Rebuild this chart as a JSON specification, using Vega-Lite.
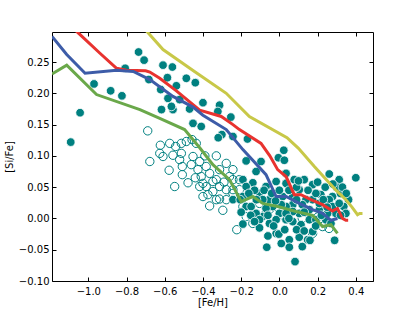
{
  "$schema": "https://vega.github.io/schema/vega-lite/v6.json",
  "width": 321,
  "height": 249,
  "autosize": "none",
  "padding": {"left": 52, "top": 32, "right": 42, "bottom": 31},
  "config": {
    "view": {"stroke": "black", "strokeWidth": 1},
    "font": "DejaVu Sans",
    "axis": {"grid": false, "domain": false, "tickColor": "black", "tickSize": -4, "labelColor": "black", "titleColor": "black", "labelFont": "DejaVu Sans", "titleFont": "DejaVu Sans", "labelFontSize": 10, "titleFontSize": 10, "titleFontWeight": "normal"}
  },
  "datasets": {
    "lines": [
      {"s": "yellow", "x": -0.72, "y": 0.308}, {"s": "yellow", "x": -0.609, "y": 0.270}, {"s": "yellow", "x": -0.45, "y": 0.236}, {"s": "yellow", "x": -0.278, "y": 0.200}, {"s": "yellow", "x": -0.157, "y": 0.163}, {"s": "yellow", "x": 0.04, "y": 0.129}, {"s": "yellow", "x": 0.10, "y": 0.112}, {"s": "yellow", "x": 0.183, "y": 0.083}, {"s": "yellow", "x": 0.252, "y": 0.060}, {"s": "yellow", "x": 0.30, "y": 0.044}, {"s": "yellow", "x": 0.348, "y": 0.030}, {"s": "yellow", "x": 0.38, "y": 0.018}, {"s": "yellow", "x": 0.409, "y": 0.006}, {"s": "yellow", "x": 0.42, "y": 0.008}, {"s": "yellow", "x": 0.435, "y": 0.008},
      {"s": "red", "x": -1.09, "y": 0.31}, {"s": "red", "x": -1.061, "y": 0.299}, {"s": "red", "x": -0.939, "y": 0.264}, {"s": "red", "x": -0.852, "y": 0.240}, {"s": "red", "x": -0.80, "y": 0.237}, {"s": "red", "x": -0.70, "y": 0.236}, {"s": "red", "x": -0.678, "y": 0.234}, {"s": "red", "x": -0.626, "y": 0.224}, {"s": "red", "x": -0.539, "y": 0.204}, {"s": "red", "x": -0.417, "y": 0.173}, {"s": "red", "x": -0.304, "y": 0.163}, {"s": "red", "x": -0.243, "y": 0.150}, {"s": "red", "x": -0.209, "y": 0.142}, {"s": "red", "x": -0.096, "y": 0.120}, {"s": "red", "x": -0.05, "y": 0.100}, {"s": "red", "x": -0.009, "y": 0.078}, {"s": "red", "x": 0.035, "y": 0.067}, {"s": "red", "x": 0.078, "y": 0.038}, {"s": "red", "x": 0.113, "y": 0.038}, {"s": "red", "x": 0.165, "y": 0.030}, {"s": "red", "x": 0.226, "y": 0.022}, {"s": "red", "x": 0.278, "y": 0.012}, {"s": "red", "x": 0.304, "y": 0.016}, {"s": "red", "x": 0.330, "y": 0.0}, {"s": "red", "x": 0.348, "y": -0.003}, {"s": "red", "x": 0.36, "y": -0.003},
      {"s": "blue", "x": -1.19, "y": 0.291}, {"s": "blue", "x": -1.113, "y": 0.262}, {"s": "blue", "x": -1.017, "y": 0.232}, {"s": "blue", "x": -0.852, "y": 0.237}, {"s": "blue", "x": -0.765, "y": 0.235}, {"s": "blue", "x": -0.678, "y": 0.222}, {"s": "blue", "x": -0.557, "y": 0.195}, {"s": "blue", "x": -0.452, "y": 0.178}, {"s": "blue", "x": -0.40, "y": 0.165}, {"s": "blue", "x": -0.278, "y": 0.142}, {"s": "blue", "x": -0.191, "y": 0.110}, {"s": "blue", "x": -0.070, "y": 0.070}, {"s": "blue", "x": -0.017, "y": 0.035}, {"s": "blue", "x": 0.035, "y": 0.035}, {"s": "blue", "x": 0.104, "y": 0.024}, {"s": "blue", "x": 0.174, "y": 0.014}, {"s": "blue", "x": 0.226, "y": 0.008}, {"s": "blue", "x": 0.270, "y": -0.003}, {"s": "blue", "x": 0.304, "y": 0.0},
      {"s": "green", "x": -1.19, "y": 0.231}, {"s": "green", "x": -1.113, "y": 0.245}, {"s": "green", "x": -0.957, "y": 0.198}, {"s": "green", "x": -0.73, "y": 0.174}, {"s": "green", "x": -0.626, "y": 0.160}, {"s": "green", "x": -0.496, "y": 0.142}, {"s": "green", "x": -0.417, "y": 0.113}, {"s": "green", "x": -0.348, "y": 0.086}, {"s": "green", "x": -0.261, "y": 0.062}, {"s": "green", "x": -0.2, "y": 0.027}, {"s": "green", "x": -0.139, "y": 0.035}, {"s": "green", "x": -0.087, "y": 0.024}, {"s": "green", "x": -0.009, "y": 0.019}, {"s": "green", "x": 0.087, "y": 0.011}, {"s": "green", "x": 0.174, "y": 0.005}, {"s": "green", "x": 0.226, "y": -0.013}, {"s": "green", "x": 0.270, "y": -0.010}, {"s": "green", "x": 0.304, "y": -0.024}
    ],
    "open": [
      {"x": -0.689, "y": 0.140}, {"x": -0.678, "y": 0.091}, {"x": -0.623, "y": 0.117}, {"x": -0.609, "y": 0.099}, {"x": -0.626, "y": 0.104}, {"x": -0.577, "y": 0.077}, {"x": -0.548, "y": 0.051}, {"x": -0.574, "y": 0.120}, {"x": -0.543, "y": 0.115}, {"x": -0.513, "y": 0.104}, {"x": -0.522, "y": 0.094}, {"x": -0.508, "y": 0.083}, {"x": -0.508, "y": 0.070}, {"x": -0.478, "y": 0.057}, {"x": -0.487, "y": 0.123}, {"x": -0.457, "y": 0.126}, {"x": -0.452, "y": 0.099}, {"x": -0.417, "y": 0.091}, {"x": -0.426, "y": 0.078}, {"x": -0.409, "y": 0.067}, {"x": -0.383, "y": 0.083}, {"x": -0.400, "y": 0.056}, {"x": -0.365, "y": 0.072}, {"x": -0.348, "y": 0.059}, {"x": -0.374, "y": 0.038}, {"x": -0.365, "y": 0.020}, {"x": -0.313, "y": 0.031}, {"x": -0.296, "y": 0.013}, {"x": -0.278, "y": 0.030}, {"x": -0.243, "y": 0.046}, {"x": -0.223, "y": -0.018}, {"x": -0.330, "y": 0.062}, {"x": -0.313, "y": 0.078}, {"x": -0.278, "y": 0.088}, {"x": -0.243, "y": 0.078}, {"x": -0.261, "y": 0.067}, {"x": -0.313, "y": 0.051}, {"x": -0.209, "y": 0.062}, {"x": -0.243, "y": 0.062}, {"x": -0.348, "y": 0.043}, {"x": -0.383, "y": 0.051}, {"x": -0.417, "y": 0.051}, {"x": -0.278, "y": 0.046}, {"x": -0.209, "y": 0.046}, {"x": -0.191, "y": 0.019}, {"x": -0.435, "y": 0.120}, {"x": -0.557, "y": 0.101}, {"x": -0.243, "y": 0.040}, {"x": -0.174, "y": 0.003}, {"x": -0.139, "y": -0.008}, {"x": -0.070, "y": 0.008}, {"x": -0.035, "y": 0.008}, {"x": 0.174, "y": -0.024}, {"x": 0.226, "y": -0.013}, {"x": 0.26, "y": -0.016}, {"x": -0.104, "y": 0.024}, {"x": -0.330, "y": 0.030}, {"x": -0.400, "y": 0.035}, {"x": -0.461, "y": 0.086}, {"x": -0.513, "y": 0.120}, {"x": -0.44, "y": 0.065}, {"x": -0.39, "y": 0.100}, {"x": -0.33, "y": 0.100}, {"x": -0.29, "y": 0.058}, {"x": -0.16, "y": 0.030}, {"x": -0.05, "y": 0.015}, {"x": 0.02, "y": 0.005}, {"x": 0.12, "y": 0.0}, {"x": 0.20, "y": 0.002}, {"x": 0.29, "y": 0.010}
    ],
    "filled": [
      {"x": -1.092, "y": 0.122}, {"x": -1.043, "y": 0.169}, {"x": -0.970, "y": 0.215}, {"x": -0.883, "y": 0.204}, {"x": -0.824, "y": 0.196}, {"x": -0.807, "y": 0.240}, {"x": -0.737, "y": 0.266}, {"x": -0.708, "y": 0.253}, {"x": -0.683, "y": 0.222}, {"x": -0.609, "y": 0.245}, {"x": -0.586, "y": 0.225}, {"x": -0.560, "y": 0.242}, {"x": -0.621, "y": 0.206}, {"x": -0.617, "y": 0.174}, {"x": -0.583, "y": 0.192}, {"x": -0.539, "y": 0.212}, {"x": -0.557, "y": 0.174}, {"x": -0.565, "y": 0.179}, {"x": -0.487, "y": 0.224}, {"x": -0.440, "y": 0.217}, {"x": -0.522, "y": 0.190}, {"x": -0.452, "y": 0.152}, {"x": -0.409, "y": 0.147}, {"x": -0.400, "y": 0.185}, {"x": -0.313, "y": 0.181}, {"x": -0.322, "y": 0.171}, {"x": -0.301, "y": 0.134}, {"x": -0.320, "y": 0.129}, {"x": -0.254, "y": 0.162}, {"x": -0.167, "y": 0.127}, {"x": -0.470, "y": 0.175}, {"x": -0.243, "y": 0.131}, {"x": -0.174, "y": 0.092}, {"x": -0.096, "y": 0.091}, {"x": -0.005, "y": 0.097}, {"x": 0.023, "y": 0.109}, {"x": 0.026, "y": 0.093}, {"x": -0.122, "y": 0.075}, {"x": -0.191, "y": 0.062}, {"x": -0.139, "y": 0.057}, {"x": -0.191, "y": 0.035}, {"x": -0.243, "y": 0.030}, {"x": -0.174, "y": 0.019}, {"x": -0.205, "y": 0.030}, {"x": -0.104, "y": 0.040}, {"x": -0.070, "y": 0.051}, {"x": -0.017, "y": 0.059}, {"x": 0.035, "y": 0.072}, {"x": 0.035, "y": 0.056}, {"x": 0.078, "y": 0.062}, {"x": 0.104, "y": 0.046}, {"x": 0.130, "y": 0.062}, {"x": 0.174, "y": 0.054}, {"x": 0.217, "y": 0.038}, {"x": 0.261, "y": 0.071}, {"x": 0.313, "y": 0.062}, {"x": 0.400, "y": 0.065}, {"x": 0.362, "y": 0.030}, {"x": 0.278, "y": 0.035}, {"x": 0.320, "y": 0.040}, {"x": 0.337, "y": 0.019}, {"x": 0.296, "y": 0.008}, {"x": 0.261, "y": 0.030}, {"x": 0.174, "y": 0.030}, {"x": 0.157, "y": 0.014}, {"x": 0.209, "y": 0.014}, {"x": 0.104, "y": 0.008}, {"x": 0.070, "y": 0.022}, {"x": 0.035, "y": 0.019}, {"x": 0.0, "y": 0.008}, {"x": -0.035, "y": 0.019}, {"x": -0.070, "y": 0.016}, {"x": -0.087, "y": 0.003}, {"x": -0.122, "y": 0.008}, {"x": -0.148, "y": 0.019}, {"x": -0.104, "y": -0.002}, {"x": -0.191, "y": -0.009}, {"x": -0.104, "y": -0.015}, {"x": -0.052, "y": -0.008}, {"x": -0.017, "y": -0.024}, {"x": -0.003, "y": -0.025}, {"x": 0.028, "y": -0.018}, {"x": 0.052, "y": -0.034}, {"x": 0.052, "y": -0.046}, {"x": -0.066, "y": -0.046}, {"x": 0.082, "y": -0.069}, {"x": 0.104, "y": -0.030}, {"x": 0.148, "y": -0.034}, {"x": 0.174, "y": -0.021}, {"x": 0.113, "y": -0.010}, {"x": 0.157, "y": -0.002}, {"x": 0.070, "y": -0.005}, {"x": 0.035, "y": -0.002}, {"x": 0.289, "y": -0.035}, {"x": 0.191, "y": -0.002}, {"x": 0.243, "y": -0.002}, {"x": 0.278, "y": 0.019}, {"x": 0.252, "y": 0.008}, {"x": -0.052, "y": 0.030}, {"x": 0.017, "y": 0.035}, {"x": 0.070, "y": 0.035}, {"x": 0.139, "y": 0.030}, {"x": 0.209, "y": 0.024}, {"x": 0.348, "y": 0.008}, {"x": 0.070, "y": 0.011}, {"x": 0.035, "y": 0.008}, {"x": -0.017, "y": -0.002}, {"x": -0.174, "y": 0.051}, {"x": -0.087, "y": 0.030}, {"x": 0.191, "y": 0.040}, {"x": 0.313, "y": 0.024}, {"x": -0.13, "y": 0.045}, {"x": 0.12, "y": 0.022}, {"x": 0.24, "y": 0.050}, {"x": 0.30, "y": 0.050},
      {"x": -0.16, "y": 0.040}, {"x": -0.12, "y": 0.030}, {"x": -0.08, "y": 0.045}, {"x": -0.04, "y": 0.040}, {"x": 0.0, "y": 0.045}, {"x": 0.05, "y": 0.045}, {"x": 0.09, "y": 0.050}, {"x": 0.15, "y": 0.045}, {"x": 0.20, "y": 0.058}, {"x": 0.23, "y": 0.030}, {"x": 0.28, "y": 0.055}, {"x": 0.33, "y": 0.050}, {"x": 0.35, "y": 0.040}, {"x": -0.15, "y": 0.005}, {"x": -0.13, "y": -0.005}, {"x": -0.06, "y": 0.005}, {"x": -0.03, "y": -0.012}, {"x": 0.01, "y": 0.022}, {"x": 0.05, "y": 0.0}, {"x": 0.09, "y": -0.018}, {"x": 0.13, "y": -0.020}, {"x": 0.13, "y": 0.010}, {"x": 0.19, "y": -0.012}, {"x": 0.22, "y": 0.005}, {"x": 0.27, "y": -0.008}, {"x": 0.32, "y": 0.005}, {"x": 0.10, "y": 0.060}, {"x": -0.02, "y": 0.028}, {"x": 0.09, "y": 0.030}, {"x": 0.25, "y": 0.018}, {"x": -0.20, "y": 0.010}, {"x": -0.06, "y": -0.028}, {"x": 0.01, "y": -0.040}, {"x": 0.12, "y": -0.045}, {"x": 0.16, "y": -0.035}
    ]
  },
  "resolve": {"axis": {"x": "independent", "y": "independent"}},
  "layer": [
    {
      "data": {"name": "open"},
      "mark": {"type": "point", "shape": "circle", "filled": false, "stroke": "#008080", "strokeWidth": 1, "size": 70, "opacity": 1},
      "encoding": {
        "x": {"field": "x", "type": "quantitative", "scale": {"domain": [-1.19, 0.49], "nice": false, "zero": false}, "axis": {"orient": "bottom", "title": "[Fe/H]", "values": [-1.0, -0.8, -0.6, -0.4, -0.2, 0.0, 0.2, 0.4], "format": ".1f", "labelPadding": 9, "titlePadding": 1}},
        "y": {"field": "y", "type": "quantitative", "scale": {"domain": [-0.1, 0.298], "nice": false, "zero": false}, "axis": {"orient": "left", "title": "[Si/Fe]", "values": [-0.1, -0.05, 0.0, 0.05, 0.1, 0.15, 0.2, 0.25], "format": ".2f", "labelPadding": 7, "titlePadding": 4}}
      }
    },
    {
      "data": {"name": "filled"},
      "mark": {"type": "point", "shape": "circle", "filled": true, "fill": "#008080", "stroke": "white", "strokeWidth": 0.8, "size": 75, "opacity": 1},
      "encoding": {
        "x": {"field": "x", "type": "quantitative", "axis": {"orient": "top", "title": null, "labels": false, "values": [-1.0, -0.8, -0.6, -0.4, -0.2, 0.0, 0.2, 0.4]}},
        "y": {"field": "y", "type": "quantitative", "axis": {"orient": "right", "title": null, "labels": false, "values": [-0.1, -0.05, 0.0, 0.05, 0.1, 0.15, 0.2, 0.25]}}
      }
    },
    {
      "data": {"name": "lines"},
      "mark": {"type": "line", "strokeWidth": 3, "clip": true},
      "encoding": {
        "x": {"field": "x", "type": "quantitative", "axis": null},
        "y": {"field": "y", "type": "quantitative", "axis": null},
        "detail": {"field": "s"},
        "order": {"field": "x", "type": "quantitative"},
        "color": {"field": "s", "type": "nominal", "scale": {"domain": ["green", "blue", "red", "yellow"], "range": ["#6aa84a", "#3d5ca8", "#e8332f", "#c8c848"]}, "legend": null}
      }
    }
  ]
}
